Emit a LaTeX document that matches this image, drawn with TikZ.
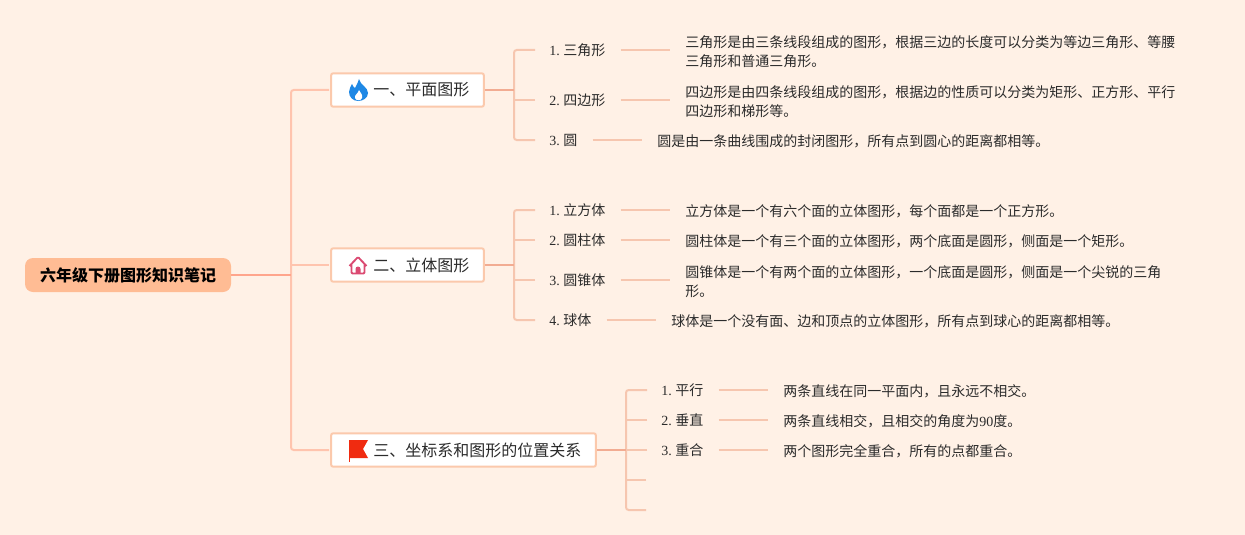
\documentclass[tikz,border=0pt]{standalone}
\usepackage{fontspec}
\setmainfont{Liberation Serif}
\newfontfamily\cjk{Noto Sans CJK SC}
\newcommand{\zh}[1]{\hspace{-0.8pt}{\cjk #1}}
\definecolor{bgc}{HTML}{FFF1E6}
\definecolor{rootc}{HTML}{FFBC94}
\definecolor{boxline}{HTML}{FBC9AC}
\definecolor{mainl}{HTML}{FFC4AE}
\definecolor{rootl}{HTML}{FFA58C}
\definecolor{stem}{HTML}{F2AC92}
\definecolor{subl}{HTML}{F6C6AF}
\definecolor{txt}{HTML}{2B2B2B}
\definecolor{flame}{HTML}{1E88E5}
\definecolor{house}{HTML}{DB4A72}
\definecolor{flagc}{HTML}{F02B10}
\tikzset{
  x=0.75pt,y=-0.75pt,
  rootbox/.style={draw=none,fill=rootc,rounded corners=6pt,minimum width=154.5pt,minimum height=25.5pt,inner sep=0pt,font=\cjk\bfseries\fontsize{12}{14}\selectfont,text=black},
  branchbox/.style={draw=boxline,line width=1.5pt,fill=white,rounded corners=1.5pt,minimum height=25pt,inner sep=0pt},
  branchtext/.style={font=\cjk\fontsize{12}{14}\selectfont,text=txt,anchor=west,inner sep=0pt},
  leaflabel/.style={font=\fontsize{10.5}{14}\selectfont,text=txt,anchor=west,inner sep=0pt},
  leaftext/.style={font=\cjk\fontsize{10.5}{14.25}\selectfont,text=txt,anchor=west,inner sep=0pt,align=left},
  mainline/.style={draw=mainl,line width=1.5pt,rounded corners=2pt},
  rootline/.style={draw=rootl,line width=1.5pt},
  stemline/.style={draw=stem,line width=1.7pt},
  subline/.style={draw=subl,line width=1.5pt,rounded corners=2pt,shorten <=10.5pt},
  leafline/.style={draw=subl,line width=1.5pt,shorten <=11.25pt,shorten >=11.25pt},
}
\begin{document}
\begin{tikzpicture}
\useasboundingbox (0,0) rectangle (1245,535);
\fill[bgc] (0,0) rectangle (1245,535);
% hub coordinates
\coordinate (hub) at (291,275);
\coordinate (hub1) at (291,90);
\coordinate (hub2) at (291,265);
\coordinate (hub3) at (291,450);
% root + branches
\node[rootbox] (root) at (128,275) {六年级下册图形知识笔记};
\node[branchbox,minimum width=114.5pt] (b1) at (407.5,90) {};
\node[branchbox,minimum width=114.5pt] (b2) at (407.5,265) {};
\node[branchbox,minimum width=198.5pt] (b3) at (463.5,450) {};
\node[branchtext] (t1) at (373,90) {一、平面图形};
\node[branchtext] (t2) at (373,265) {二、立体图形};
\node[branchtext] (t3) at (373,450) {三、坐标系和图形的位置关系};
% connectors from the hub
\draw[mainline,shorten <=0.75pt,shorten >=0.75pt] (b1.west) -- (hub1) -- (hub3) -- (b3.west);
\draw[mainline,shorten >=0.75pt] (hub2) -- (b2.west);
% icons
\fill[flame] (359,79) .. controls (360,85) and (368,87) .. (368,93) .. controls (368,98) and (363,101) .. (358,101) .. controls (353,101) and (349,97) .. (349,92) .. controls (349,89) and (351,86) .. (352,84) .. controls (353,86) and (354,88) .. (355,88) .. controls (357,85) and (358,82) .. (359,79) -- cycle;
\fill[white] (359,90) .. controls (360,93) and (363,94) .. (362,98) .. controls (361,101) and (356,101) .. (355,98) .. controls (354,95) and (358,94) .. (359,90) -- cycle;
\draw[house,line width=1.4pt,line join=round,rounded corners=0.8pt] (349.5,266) -- (358,257) -- (366.5,266) (351.5,264) -- (351.5,273.5) -- (364.5,273.5) -- (364.5,264);
\fill[house] (355.5,273.5) -- (355.5,269) arc[start angle=180,end angle=0,x radius=2.5,y radius=-2.5] -- (360.5,273.5) -- cycle;
\fill[flagc] (349,440) -- (368,440) -- (363,449) -- (368,458) -- (349,458) -- cycle;
\fill[flagc] (349,440) rectangle (350.2,462);
% leaves, branch 1
\node[leaflabel] (l11) at (549,50) {1. \zh{三角形}};
\node[leaflabel] (l12) at (549,100) {2. \zh{四边形}};
\node[leaflabel] (l13) at (549,140) {3. \zh{圆}};
\node[leaftext] (x11) at (685,51.5) {三角形是由三条线段组成的图形，根据三边的长度可以分类为等边三角形、等腰\\三角形和普通三角形。};
\node[leaftext] (x12) at (685,101.5) {四边形是由四条线段组成的图形，根据边的性质可以分类为矩形、正方形、平行\\四边形和梯形等。};
\node[leaftext] (x13) at (657,141) {圆是由一条曲线围成的封闭图形，所有点到圆心的距离都相等。};
% leaves, branch 2
\node[leaflabel] (l21) at (549,210) {1. \zh{立方体}};
\node[leaflabel] (l22) at (549,240) {2. \zh{圆柱体}};
\node[leaflabel] (l23) at (549,280) {3. \zh{圆锥体}};
\node[leaflabel] (l24) at (549,320) {4. \zh{球体}};
\node[leaftext] (x21) at (685,211) {立方体是一个有六个面的立体图形，每个面都是一个正方形。};
\node[leaftext] (x22) at (685,241) {圆柱体是一个有三个面的立体图形，两个底面是圆形，侧面是一个矩形。};
\node[leaftext] (x23) at (685,281.5) {圆锥体是一个有两个面的立体图形，一个底面是圆形，侧面是一个尖锐的三角\\形。};
\node[leaftext] (x24) at (671,321) {球体是一个没有面、边和顶点的立体图形，所有点到球心的距离都相等。};
% leaves, branch 3
\node[leaflabel] (l31) at (661,390) {1. \zh{平行}};
\node[leaflabel] (l32) at (661,420) {2. \zh{垂直}};
\node[leaflabel] (l33) at (661,450) {3. \zh{重合}};
\coordinate (l34) at (660,480);
\coordinate (l35) at (660,510);
\node[leaftext] (x31) at (783,391) {两条直线在同一平面内，且永远不相交。};
\node[leaftext] (x32) at (783,421) {两条直线相交，且相交的角度为{\rmfamily 90}度。};
\node[leaftext] (x33) at (783,451) {两个图形完全重合，所有的点都重合。};
% bus corners
\coordinate (s1) at (514,90); \coordinate (s11) at (514,50); \coordinate (s12) at (514,100); \coordinate (s13) at (514,140);
\coordinate (s2) at (514,265); \coordinate (s21) at (514,210); \coordinate (s22) at (514,240); \coordinate (s23) at (514,280); \coordinate (s24) at (514,320);
\coordinate (s3) at (626,450); \coordinate (s31) at (626,390); \coordinate (s32) at (626,420); \coordinate (s35) at (626,510); \coordinate (s34) at (626,480);
% connectors
\draw[rootline] (root.east) -- (hub);
\draw[subline,shorten >=10.5pt] (l11.west) -- (s11) -- (s13) -- (l13.west);
\draw[subline] (l12.west) -- (s12);
\draw[stemline] (b1.east) -- (s1);
\draw[subline,shorten >=10.5pt] (l21.west) -- (s21) -- (s24) -- (l24.west);
\draw[subline] (l22.west) -- (s22);
\draw[subline] (l23.west) -- (s23);
\draw[stemline] (b2.east) -- (s2);
\draw[subline,shorten >=10.5pt] (l31.west) -- (s31) -- (s35) -- (l35);
\draw[subline] (l32.west) -- (s32);
\draw[subline] (l33.west) -- (s3);
\draw[subline] (l34) -- (s34);
\draw[stemline] (b3.east) -- (s3);
\foreach \a/\b in {l11/x11,l12/x12,l13/x13,l21/x21,l22/x22,l23/x23,l24/x24,l31/x31,l32/x32,l33/x33}
  \draw[leafline] (\a.east) -- (\a.east -| \b.west);
\end{tikzpicture}
\end{document}
